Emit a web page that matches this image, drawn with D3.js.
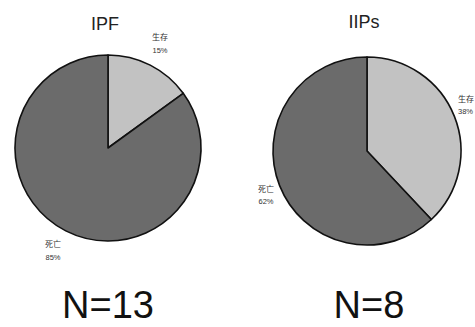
<!DOCTYPE html>
<html>
<head>
<meta charset="utf-8">
<script src="https://cdn.jsdelivr.net/npm/d3@7"></script>
<style>
  html, body { margin: 0; padding: 0; background: #fff; }
  svg { display: block; }
</style>
</head>
<body>
<svg id="chart" width="475" height="327"></svg>
<script>
// Outcome shares per cohort
const groups = ["IPF", "IIPs"];
const sampleSizes = [13, 8];
const outcomeLabels = ["生存", "死亡"];
const ipfShares = [15, 85];
const iipsShares = [38, 62];
const shareSets = [ipfShares, iipsShares];

const svg = d3.select("#chart");

const layout = [
  { cx: 108, cy: 148, r: 93, titleY: 30, nX: 108, nY: 318,
    labels: [ { x: 160, y: 40, y2: 53, anchor: "middle" },
              { x: 53, y: 247, y2: 260, anchor: "middle" } ] },
  { cx: 367, cy: 151, r: 94, titleY: 28, nX: 369, nY: 318,
    labels: [ { x: 458, y: 102, y2: 114, anchor: "start" },
              { x: 266, y: 192, y2: 204, anchor: "middle" } ] }
];

const fills = ["#c2c2c2", "#6b6b6b"];

const pie = d3.pie().sort(null).value(d => d);

groups.forEach((g, i) => {
  const L = layout[i];
  const arc = d3.arc().innerRadius(0).outerRadius(L.r);
  const gEl = svg.append("g").attr("transform", `translate(${L.cx},${L.cy})`);
  const arcs = pie(shareSets[i]);

  gEl.selectAll("path")
    .data(arcs)
    .join("path")
    .attr("d", arc)
    .attr("fill", (d, j) => fills[j])
    .attr("stroke", "#111")
    .attr("stroke-width", 1.6)
    .attr("stroke-linejoin", "round");

  svg.append("text")
    .attr("x", L.cx - 3)
    .attr("y", L.titleY)
    .attr("text-anchor", "middle")
    .attr("font-family", "Liberation Sans, Arial, sans-serif")
    .attr("font-size", 18)
    .attr("fill", "#222")
    .text(g);

  arcs.forEach((a, j) => {
    const lab = L.labels[j];
    svg.append("text")
      .attr("x", lab.x).attr("y", lab.y)
      .attr("text-anchor", lab.anchor)
      .attr("font-family", "Noto Sans CJK JP, sans-serif")
      .attr("font-size", 8)
      .attr("fill", "#333")
      .text(outcomeLabels[j]);
    svg.append("text")
      .attr("x", lab.x).attr("y", lab.y2)
      .attr("text-anchor", lab.anchor)
      .attr("font-family", "Liberation Sans, Arial, sans-serif")
      .attr("font-size", 7.5)
      .attr("fill", "#333")
      .text(shareSets[i][j] + "%");
  });

  svg.append("text")
    .attr("x", L.nX)
    .attr("y", L.nY)
    .attr("text-anchor", "middle")
    .attr("font-family", "Liberation Sans, Arial, sans-serif")
    .attr("font-size", 38)
    .attr("fill", "#111")
    .text("N=" + sampleSizes[i]);
});
</script>
</body>
</html>
